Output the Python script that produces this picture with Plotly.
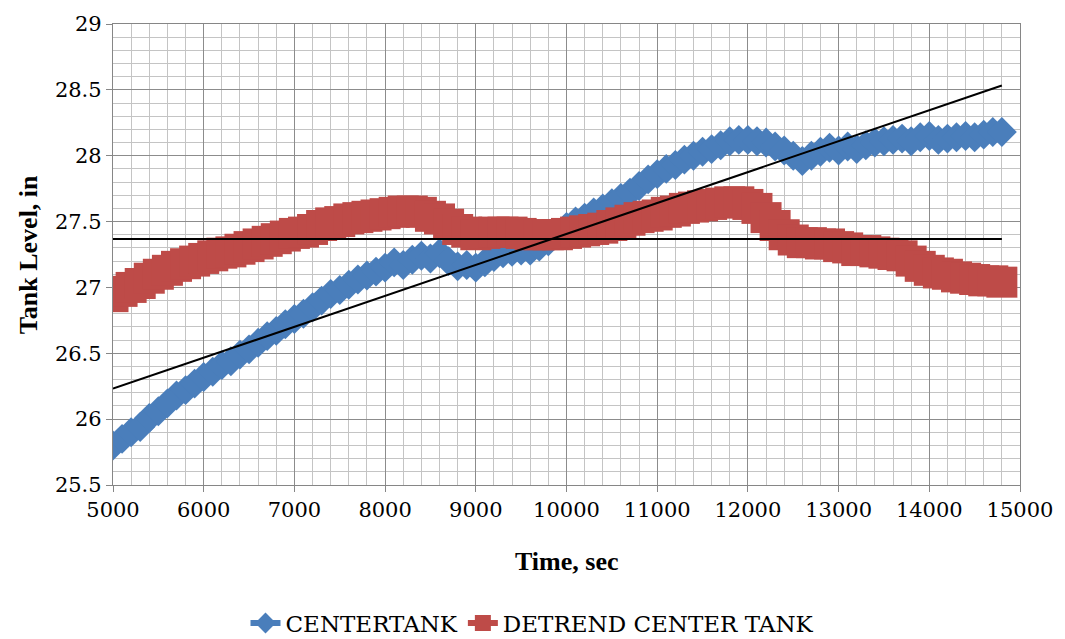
import numpy as np
import plotly.graph_objects as go

# Sample times (s)
time_sec = list(range(5000, 14900, 100))

# Measured centre tank level (in)
center_tank = [
    25.80, 25.85, 25.90, 25.94, 26.01, 26.06, 26.12, 26.18, 26.22, 26.27,
    26.32, 26.36, 26.41, 26.44, 26.49, 26.53, 26.58, 26.63, 26.67, 26.72,
    26.76, 26.80, 26.85, 26.90, 26.95, 26.98, 27.02, 27.06, 27.09, 27.12,
    27.15, 27.19, 27.17, 27.21, 27.24, 27.22, 27.26, 27.20, 27.16, 27.17,
    27.15, 27.19, 27.23, 27.26, 27.27, 27.28, 27.28, 27.31, 27.35, 27.40,
    27.46, 27.50, 27.53, 27.57, 27.60, 27.64, 27.68, 27.72, 27.77, 27.82,
    27.86, 27.90, 27.93, 27.97, 28.00, 28.03, 28.05, 28.08, 28.11, 28.12,
    28.12, 28.11, 28.10, 28.07, 28.04, 28.00, 27.96, 28.00, 28.03, 28.06,
    28.04, 28.07, 28.05, 28.08, 28.10, 28.11, 28.12, 28.13, 28.11, 28.14,
    28.15, 28.12, 28.13, 28.14, 28.15, 28.14, 28.16, 28.18, 28.18,
]

# Detrended centre tank level (in)
detrend_center_tank = [
    26.93, 26.97, 27.00, 27.03, 27.07, 27.10, 27.13, 27.16, 27.18, 27.20,
    27.22, 27.24, 27.26, 27.27, 27.29, 27.31, 27.33, 27.35, 27.37, 27.39,
    27.41, 27.42, 27.44, 27.47, 27.49, 27.50, 27.52, 27.53, 27.54, 27.55,
    27.56, 27.57, 27.58, 27.58, 27.57, 27.54, 27.52, 27.48, 27.44, 27.42,
    27.40, 27.41, 27.42, 27.42, 27.42, 27.41, 27.40, 27.40, 27.40, 27.40,
    27.41, 27.42, 27.43, 27.44, 27.45, 27.47, 27.49, 27.51, 27.53, 27.54,
    27.55, 27.57, 27.58, 27.60, 27.61, 27.62, 27.63, 27.64, 27.65, 27.65,
    27.63, 27.60, 27.53, 27.47, 27.40, 27.36, 27.34, 27.34, 27.33, 27.33,
    27.31, 27.30, 27.28, 27.28, 27.27, 27.26, 27.25, 27.24, 27.20, 27.16,
    27.13, 27.11, 27.10, 27.08, 27.07, 27.06, 27.05, 27.05, 27.04,
]

x_ticks = [5000, 6000, 7000, 8000, 9000, 10000, 11000, 12000, 13000, 14000, 15000]
y_ticks = [25.5, 26, 26.5, 27, 27.5, 28, 28.5, 29]

BLUE = "#4a7ebb"
RED = "#be4b48"
TEXT_FONT = "DejaVu Serif"
TITLE_FONT = "Liberation Serif"

t = np.array(time_sec, dtype=float)
# Linear trend lines over the sampled span
fit_c = np.polyfit(t, np.array(center_tank), 1)
fit_d = np.polyfit(t, np.array(detrend_center_tank), 1)
t_line = np.array([t[0], t[-1]])

fig = go.Figure()
fig.add_trace(go.Scatter(
    x=time_sec, y=center_tank, name="CENTERTANK", mode="lines+markers",
    line=dict(color=BLUE, width=6),
    marker=dict(symbol="diamond", size=23, color=BLUE, line=dict(width=0)),
))
fig.add_trace(go.Scatter(
    x=time_sec, y=detrend_center_tank, name="DETREND CENTER TANK", mode="lines+markers",
    line=dict(color=RED, width=6),
    marker=dict(symbol="square", size=31, color=RED, line=dict(width=0)),
))
fig.add_trace(go.Scatter(
    x=t_line, y=np.polyval(fit_c, t_line), mode="lines",
    line=dict(color="black", width=2), showlegend=False, hoverinfo="skip",
))
fig.add_trace(go.Scatter(
    x=t_line, y=np.polyval(fit_d, t_line), mode="lines",
    line=dict(color="black", width=2), showlegend=False, hoverinfo="skip",
))

axis_common = dict(
    showline=True, linecolor="#868686", linewidth=1.3, mirror=True,
    ticks="outside", ticklen=6, tickcolor="#868686", tickwidth=1.3,
    showgrid=True, gridcolor="#8c8c8c", gridwidth=1.3,
    zeroline=False,
    tickfont=dict(family=TEXT_FONT, size=21, color="black"),
)

fig.update_xaxes(
    range=[5000, 15000], tickvals=x_ticks, ticktext=[str(v) for v in x_ticks],
    minor=dict(dtick=200, showgrid=True, gridcolor="#c4c4c4", gridwidth=1.3, ticks=""),
    **axis_common,
)
fig.update_yaxes(
    range=[25.5, 29], tickvals=y_ticks, ticktext=[f"{v:g}" for v in y_ticks],
    minor=dict(dtick=0.1, showgrid=True, gridcolor="#c4c4c4", gridwidth=1.3, ticks=""),
    **axis_common,
)

fig.update_layout(
    width=1065, height=639,
    margin=dict(l=113, r=40, t=20, b=154),
    paper_bgcolor="white", plot_bgcolor="white",
    font=dict(family=TEXT_FONT, color="black"),
    legend=dict(
        orientation="h", xref="container", yref="container",
        x=0.5, xanchor="center", y=0.025, yanchor="middle",
        font=dict(family=TEXT_FONT, size=23, color="black"),
        bgcolor="rgba(0,0,0,0)",
    ),
    annotations=[
        dict(text="<b>Time, sec</b>", xref="paper", yref="paper",
             x=0.5, y=-0.166, xanchor="center", yanchor="middle",
             showarrow=False, font=dict(family=TITLE_FONT, size=26, color="black")),
        dict(text="<b>Tank Level, in</b>", xref="paper", yref="paper",
             x=-0.093, y=0.5, xanchor="center", yanchor="middle", textangle=-90,
             showarrow=False, font=dict(family=TITLE_FONT, size=26, color="black")),
    ],
)

fig.write_html("out.html")
